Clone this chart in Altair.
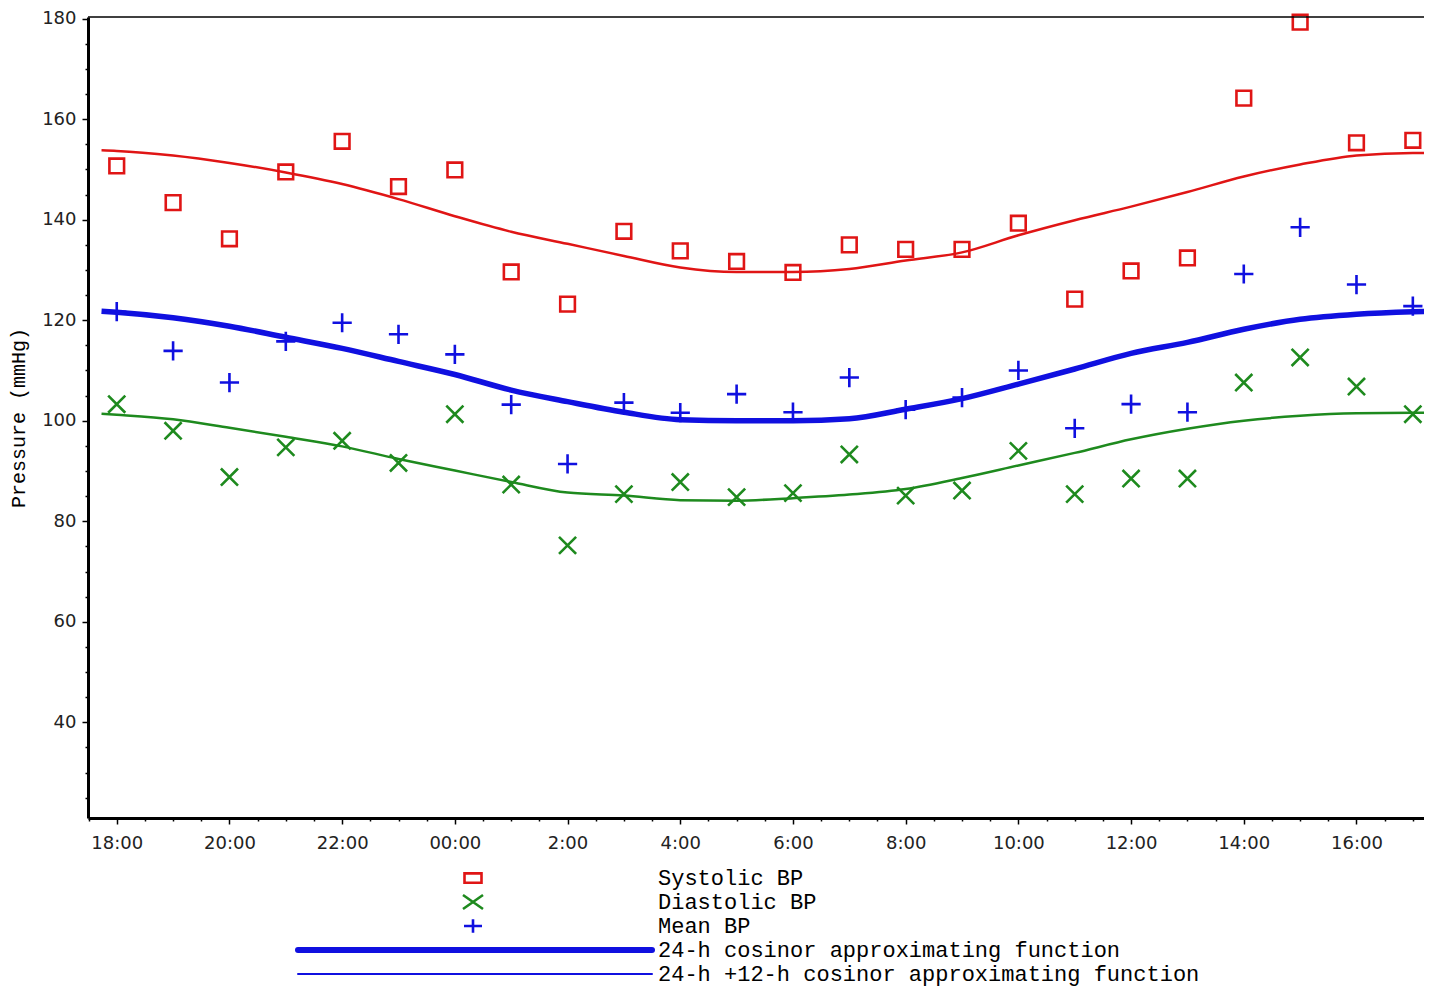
import altair as alt
import pandas as pd

# ---------------- data (hours after 18:00) ----------------
HOURS = list(range(24))
SYSTOLIC = [150.7, 143.4, 136.2, 149.5, 155.6, 146.6, 149.9, 129.6, 123.2, 137.7,
            133.8, 131.7, 129.5, 135.0, 134.1, 134.1, 139.3, 124.2, 129.8, 132.4,
            164.2, 179.3, 155.3, 155.8]
DIASTOLIC = [103.3, 98.0, 88.8, 94.7, 96.0, 91.6, 101.3, 87.3, 75.2, 85.4,
             87.8, 84.8, 85.6, 93.3, 85.1, 86.1, 94.0, 85.4, 88.5, 88.5,
             107.6, 112.6, 106.8, 101.3]
MEAN = [121.7, 113.9, 107.6, 115.8, 119.5, 117.2, 113.2, 103.2, 91.4, 103.6,
        101.6, 105.3, 101.7, 108.6, 102.2, 104.6, 110.0, 98.5, 103.3, 101.7,
        129.2, 138.5, 127.1, 122.8]

FIT_HOURS = [-0.27] + list(range(24)) + [23.34]
FIT_SYS = [153.8, 153.7, 152.8, 151.3, 149.4, 147.1, 144.1, 140.7, 137.6, 135.2,
           132.8, 130.5, 129.6, 129.6, 130.2, 131.9, 133.5, 136.9, 139.9, 142.6,
           145.5, 148.6, 151.0, 152.8, 153.3, 153.3]
FIT_MEAN = [121.8, 121.6, 120.5, 118.8, 116.6, 114.4, 111.8, 109.2, 106.1, 103.8,
            101.7, 100.2, 100.0, 100.0, 100.4, 102.3, 104.4, 107.3, 110.3, 113.4,
            115.6, 118.2, 120.2, 121.2, 121.7, 121.8]
FIT_DIA = [101.4, 101.2, 100.3, 98.6, 96.8, 94.9, 92.4, 90.1, 87.8, 85.7,
           85.1, 84.2, 84.1, 84.6, 85.3, 86.4, 88.6, 91.1, 93.6, 96.3,
           98.4, 100.0, 101.0, 101.5, 101.6, 101.6]

SERIES = ["Systolic BP", "Diastolic BP", "Mean BP"]
LEGEND_LABELS = ["Systolic BP", "Diastolic BP", "Mean BP",
                 "24-h cosinor approximating function",
                 "24-h +12-h cosinor approximating function"]

X_TICKS = [h / 2 for h in range(-1, 47)]
Y_TICKS = list(range(25, 181, 5))

# ---------------- style ----------------
RED = "#e01515"
GREEN = "#1e8a1e"
BLUE = "#1010e0"
COLORS = [RED, GREEN, BLUE]
SQ = "M-1,-1H1V1H-1Z"
XS = "M-1,-1L1,1M-1,1L1,-1"
PL = "M-1,0H1M0,-1V1"
W, H = 1344, 801
XDOM = [-0.51, 23.34]
YDOM = [20.95, 180.34]

x_enc = alt.X(
    "hour:Q",
    scale=alt.Scale(domain=XDOM, nice=False, zero=False),
    axis=alt.Axis(
        values=X_TICKS, title=None, grid=False, labelOverlap=False, labelFlush=False,
        labelExpr="datum.value % 2 === 0 ? (datum.value === 6 ? '00:00' : ((datum.value + 18) % 24) + ':00') : ''",
        tickSize={"condition": {"test": "datum.value % 2 === 0", "value": 6}, "value": 3},
        labelPadding=10,
    ),
)
y_enc = alt.Y(
    "value:Q",
    scale=alt.Scale(domain=YDOM, nice=False, zero=False),
    axis=alt.Axis(
        values=Y_TICKS, title="Pressure (mmHg)", grid=False, labelOverlap=False, labelFlush=False,
        labelExpr="datum.value % 20 === 0 ? datum.label : ''",
        tickSize={"condition": {"test": "datum.value % 20 === 0", "value": 6}, "value": 3},
        labelPadding=6, titleFont="Liberation Mono", titleFontSize=20, titleFontWeight="normal",
        titleColor="black", titlePadding=13,
    ),
)

obs = pd.DataFrame({
    "hour": HOURS * 3,
    "value": SYSTOLIC + DIASTOLIC + MEAN,
    "series": [SERIES[0]] * 24 + [SERIES[1]] * 24 + [SERIES[2]] * 24,
})
fits = pd.DataFrame({
    "hour": FIT_HOURS * 3,
    "value": FIT_SYS + FIT_DIA + FIT_MEAN,
    "series": [SERIES[0]] * len(FIT_HOURS) + [SERIES[1]] * len(FIT_HOURS) + [SERIES[2]] * len(FIT_HOURS),
})

layers = []
for s, c, w in zip(SERIES, COLORS, [2.5, 2.5, 5.5]):
    layers.append(
        alt.Chart(fits).transform_filter(alt.datum.series == s)
        .mark_line(color=c, strokeWidth=w, interpolate="monotone")
        .encode(x=x_enc, y=y_enc)
    )

points = alt.Chart(obs).mark_point(filled=False, strokeWidth=2.6, opacity=1).encode(
    x=x_enc, y=y_enc,
    shape=alt.Shape("series:N", scale=alt.Scale(domain=SERIES, range=[SQ, XS, PL]), legend=None),
    color=alt.Color("series:N", scale=alt.Scale(domain=SERIES, range=COLORS), legend=None),
    size=alt.Size("series:N", scale=alt.Scale(domain=SERIES, range=[215, 370, 400]), legend=None),
)
layers.append(points)

frame = alt.Chart(pd.DataFrame({"value": [YDOM[1]]})).mark_rule(color="black", strokeWidth=1.5).encode(y=y_enc)
layers.append(frame)

main = alt.layer(*layers)

# ---------------- legend ----------------
leg = pd.DataFrame({"row": list(range(5)), "label": LEGEND_LABELS})
y_leg = alt.Y("row:Q", scale=alt.Scale(domain=[0, 4], range=[861, 957]), axis=None)
leg_layers = [
    alt.Chart(leg).mark_text(align="left", baseline="middle", font="Liberation Mono",
                             fontSize=22, color="black")
    .encode(x=alt.value(570), y=y_leg, text="label:N")
]
LEG_SHAPES = ["M-1,-0.55H1V0.55H-1Z", "M-1,-0.7L1,0.7M-1,0.7L1,-0.7", "M-1,0H1M0,-0.75V0.75"]
for i, (shp, col, sz) in enumerate(zip(LEG_SHAPES, COLORS, [289, 400, 324])):
    leg_layers.append(
        alt.Chart(leg).transform_filter(alt.datum.row == i)
        .mark_point(shape=shp, filled=False, color=col, size=sz, strokeWidth=2.6, opacity=1)
        .encode(x=alt.value(385), y=y_leg)
    )
for i, w in [(3, 6), (4, 2)]:
    leg_layers.append(
        alt.Chart(leg).transform_filter(alt.datum.row == i)
        .mark_rule(color=BLUE, strokeWidth=w, strokeCap="round")
        .encode(x=alt.value(210), x2=alt.value(564), y=y_leg)
    )
legend = alt.layer(*leg_layers)

chart = (
    alt.layer(main, legend)
    .resolve_scale(y="independent")
    .properties(
        width=W, height=H,
        autosize=alt.AutoSizeParams(type="none"),
        padding={"left": 80, "top": 9, "right": -8, "bottom": 173},
    )
    .configure_view(stroke=None)
    .configure_axis(
        domainColor="black", domainWidth=3, tickColor="black", tickWidth=1.5,
        labelFont="DejaVu Sans", labelFontSize=18, labelColor="#222",
    )
)

chart.save("out.html", embed_options={"renderer": "svg", "actions": False})
